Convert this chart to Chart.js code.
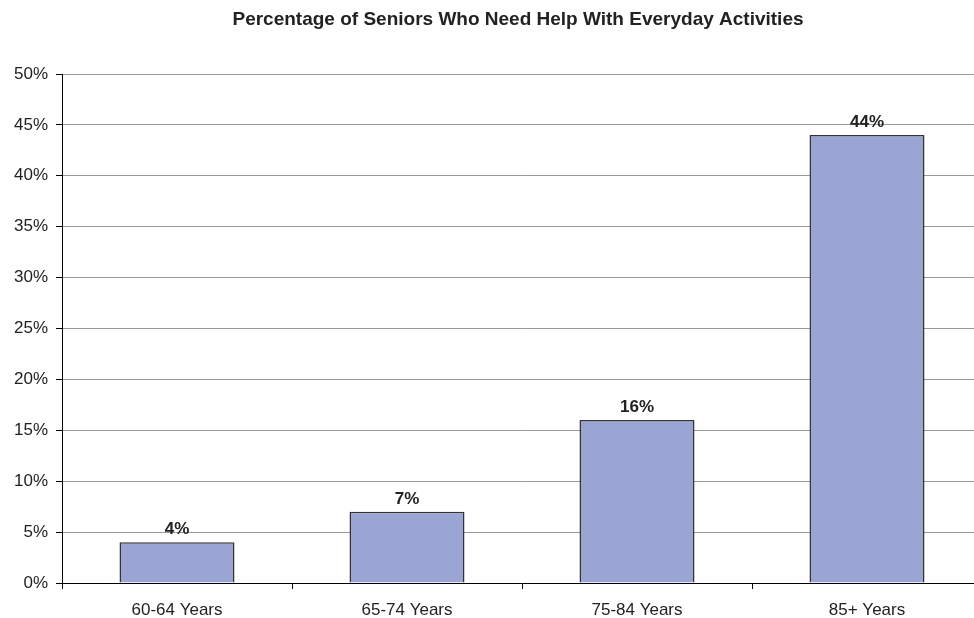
<!DOCTYPE html>
<html>
<head>
<meta charset="utf-8">
<script src="https://cdn.jsdelivr.net/npm/chart.js@4/dist/chart.umd.min.js"></script>
<style>
  html, body { margin: 0; padding: 0; background: #fff; overflow: hidden; }
  #wrap { width: 984px; height: 618px; }
</style>
</head>
<body>
<div id="wrap"><canvas id="seniorsChart" width="984" height="618"></canvas></div>
<script>
const chartTitle = "Percentage of Seniors Who Need Help With Everyday Activities";
const ageGroups = ["60-64 Years", "65-74 Years", "75-84 Years", "85+ Years"];
const needHelpPct = [4, 7, 16, 44];
const yTicks = [0, 5, 10, 15, 20, 25, 30, 35, 40, 45, 50];

const FONT = "'Liberation Sans', Arial, sans-serif";

// value labels above each bar plus the heading
const labelPlugin = {
  id: "barLabels",
  afterDatasetsDraw(chart) {
    const ctx = chart.ctx;
    const meta = chart.getDatasetMeta(0);
    ctx.save();
    ctx.fillStyle = "#222";
    ctx.font = "bold 17px " + FONT;
    ctx.textAlign = "center";
    ctx.textBaseline = "alphabetic";
    meta.data.forEach((bar, i) => {
      ctx.fillText(needHelpPct[i] + "%", bar.x, bar.y - 8);
    });
    ctx.font = "bold 19px " + FONT;
    ctx.textBaseline = "middle";
    ctx.fillText(chartTitle, 518, 20);
    ctx.restore();
  }
};

new Chart(document.getElementById("seniorsChart"), {
  type: "bar",
  data: {
    labels: ageGroups,
    datasets: [{
      data: needHelpPct,
      backgroundColor: "#9AA5D3",
      borderColor: "#333",
      borderWidth: 1.5,
      barPercentage: 0.5,
      categoryPercentage: 1
    }]
  },
  options: {
    responsive: false,
    animation: false,
    layout: { padding: { top: 74, right: 2, bottom: 0, left: 0 } },
    plugins: {
      legend: { display: false },
      title: { display: false },
      tooltip: { enabled: false }
    },
    scales: {
      x: {
        afterFit(scale) { scale.height = 35; },
        grid: {
          offset: true,
          drawOnChartArea: false,
          tickLength: 6,
          tickColor: "#000"
        },
        border: { color: "#000", width: 1 },
        ticks: { color: "#222", font: { family: FONT, size: 17 }, padding: 11 }
      },
      y: {
        min: 0,
        max: 50,
        afterFit(scale) { scale.width = 62; },
        afterBuildTicks(scale) { scale.ticks = yTicks.map(v => ({ value: v })); },
        grid: { color: "#9a9a9a", tickColor: "#000", tickLength: 6 },
        border: { color: "#000", width: 1 },
        ticks: {
          color: "#222",
          font: { family: FONT, size: 17 },
          padding: 8,
          callback: v => v + "%"
        }
      }
    }
  },
  plugins: [labelPlugin]
});
</script>
</body>
</html>
